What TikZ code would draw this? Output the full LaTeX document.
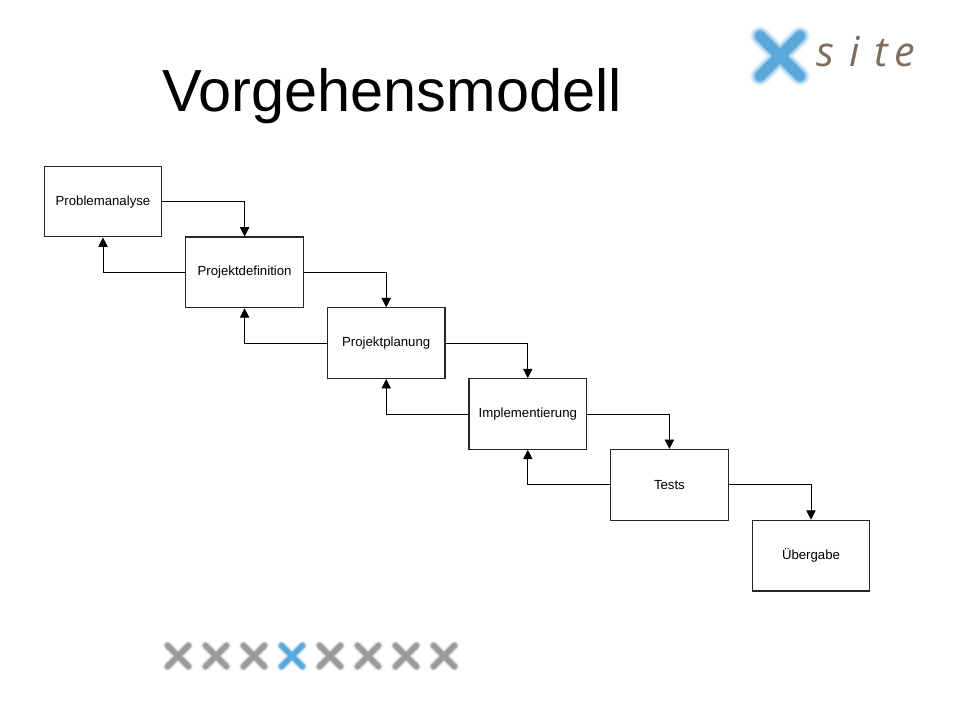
\documentclass[tikz,border=0pt]{standalone}
\usepackage{fontspec}
\setmainfont{Liberation Sans}
\newfontfamily\logofont{Open Sans}
\usetikzlibrary{arrows.meta}
\usetikzlibrary{calc}
\definecolor{logoblue}{HTML}{5AA9DC}
\definecolor{logogrey}{HTML}{9A9A9A}
\definecolor{logobrown}{HTML}{7D6E60}
\tikzset{
    phase/.style={draw=black!85, line width=0.85pt, minimum width=88.2pt, minimum height=53pt, inner sep=0pt, font=\fontsize{9.9}{12}\selectfont},
    flow/.style={draw, line width=0.6pt, -{Triangle[length=7pt,width=7pt]}},
    sitechar/.style={text=logobrown, inner sep=0pt, anchor=base, font=\logofont\itshape\fontsize{31}{31}\selectfont},
}
% one soft cross: centre, half size, stroke, colour
\newcommand{\softcross}[4]{
    \foreach \grow/\fade in {1.6/0.1,1.4/0.15,1.2/0.25,1/0.45,0.8/1}{
        \draw[#4, line width=\grow*#3, opacity=\fade, line cap=round]
            ($(#1)+(-#2,-#2)$) -- ($(#1)+(#2,#2)$)
            ($(#1)+(-#2,#2)$) -- ($(#1)+(#2,-#2)$);
    }
}
\begin{document}
\begin{tikzpicture}[x=0.75pt,y=-0.75pt]
        \useasboundingbox (0,0) rectangle (960,720);
        \fill[white] (0,0) rectangle (960,720);

        \node[anchor=base west, inner sep=0pt, font=\fontsize{44.6}{48}\selectfont] (title) at (162,112) {Vorgehensmodell};

        \softcross{780,56}{20}{9.5pt}{logoblue}
        \node[sitechar] (logos) at (825,67) {s};
        \node[sitechar] (logoi) at (855,67) {i};
        \node[sitechar] (logot) at (881,67) {t};
        \node[sitechar] (logoe) at (905,67) {e};

        \node[phase] (problem) at (103,201.6) {Problemanalyse};
        \node[phase] (definition) at (244.6,272.4) {Projektdefinition};
        \node[phase] (planung) at (386.2,343.2) {Projektplanung};
        \node[phase] (implement) at (527.8,414) {Implementierung};
        \node[phase] (tests) at (669.4,484.8) {Tests};
        \node[phase] (uebergabe) at (811,555.6) {Übergabe};

        \foreach \from/\to in {problem/definition,definition/planung,planung/implement,implement/tests,tests/uebergabe}
            \draw[flow] (\from.east) -| (\to.north);
        \foreach \from/\to in {definition/problem,planung/definition,implement/planung,tests/implement}
            \draw[flow] (\from.west) -| (\to.south);

        \foreach \n in {0,1,2,4,5,6,7}{
            \softcross{178+38*\n,656}{10.5}{4.4pt}{logogrey}
        }
        \softcross{292,656}{10.5}{4.4pt}{logoblue}
\end{tikzpicture}
\end{document}
